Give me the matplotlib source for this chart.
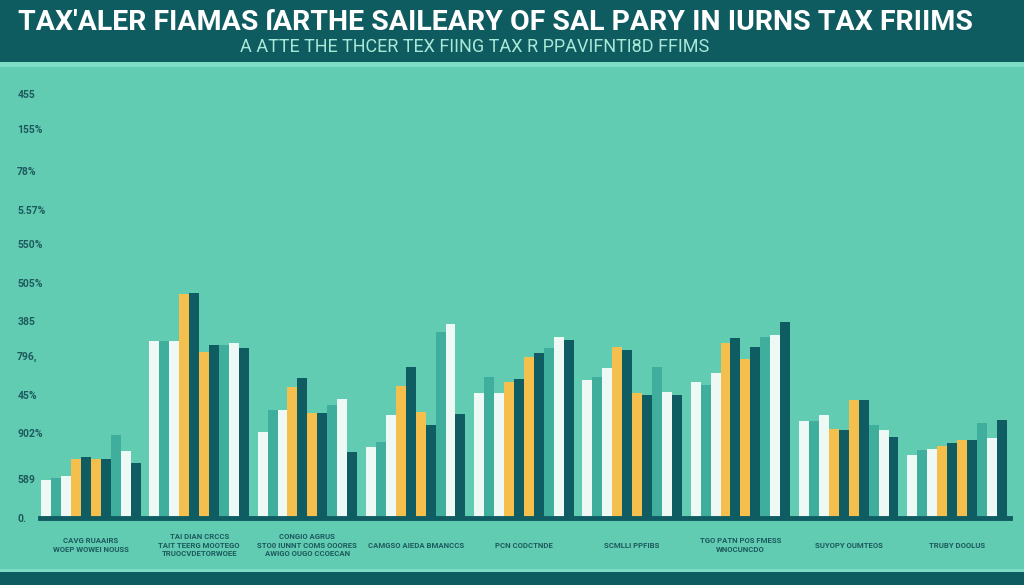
import matplotlib.pyplot as plt
import numpy as np
from matplotlib.patches import Rectangle

# category labels (as printed on the chart)
categories = [
    "CAVG RUAAIRS\nWOEP WOWEI NOUSS",
    "TAI DIAN CRCCS\nTAIT TEERG MOOTEGO\nTRUOCVDETORWOEE",
    "CONGIO AGRUS\nSTO0 IUNNT COMS OOORES\nAWIGO OUGO CCOECAN",
    "CAMGSO AIEDA BMANCCS",
    "PCN CODCTNDE",
    "SCMLLI PPFIBS",
    "TGO PATN POS FMESS\nWNOCUNCDO",
    "SUYOPY OUMTEOS",
    "TRUBY DOOLUS",
]

# ten series per group
s1_white = [9.9, 46.0, 22.3, 18.4, 32.5, 35.8, 35.3, 25.2, 16.4]
s2_teal = [10.4, 46.0, 28.1, 19.7, 36.6, 36.6, 34.5, 25.2, 17.7]
s3_white = [10.9, 46.0, 28.1, 26.8, 32.5, 39.0, 37.7, 26.8, 17.9]
s4_yellow = [15.3, 58.2, 34.0, 34.3, 35.3, 44.4, 45.5, 23.1, 18.7]
s5_dark = [15.8, 58.4, 36.4, 39.2, 36.1, 43.6, 46.8, 22.9, 19.5]
s6_yellow = [15.3, 43.1, 27.3, 27.5, 41.8, 32.5, 41.3, 30.6, 20.3]
s7_dark = [15.3, 44.9, 27.3, 24.2, 42.9, 31.9, 44.4, 30.6, 20.3]
s8_teal = [21.6, 44.9, 29.4, 48.3, 44.0, 39.2, 47.0, 24.2, 24.7]
s9_white = [17.4, 45.5, 30.9, 50.4, 47.0, 32.7, 47.5, 22.9, 20.8]
s10_dark = [14.3, 44.0, 17.1, 27.0, 46.2, 31.9, 50.9, 21.0, 25.5]

y_ticks = [0, 10, 22, 32, 42, 51, 61, 71, 80, 90, 101, 110]
y_labels = ["0.", "589", "902%", "45%", "796,", "385", "505%", "550%",
            "5.57%", "78%", "155%", "455"]

title = "TAX'ALER FIAMAS ſARTHE SAILEARY OF SAL PARY IN IURNS TAX FRIIMS"
subtitle = "A ATTE THE THCER TEX FIING TAX R PPAVIFNTI8D FFIMS"

MINT = "#62ccb2"
DARK = "#0f5c60"
WHITE = "#eef9f6"
TEAL = "#3fae9d"
YELLOW = "#f4bf4c"
BARDARK = "#0f5d62"
LABEL = "#1c5a5e"

series = [(s1_white, WHITE), (s2_teal, TEAL), (s3_white, WHITE),
          (s4_yellow, YELLOW), (s5_dark, BARDARK), (s6_yellow, YELLOW),
          (s7_dark, BARDARK), (s8_teal, TEAL), (s9_white, WHITE),
          (s10_dark, BARDARK)]

font = ["Roboto", "DejaVu Sans"]

fig = plt.figure(figsize=(10.24, 5.85), dpi=100)
fig.patch.set_facecolor(MINT)

# header and footer bands
fig.patches.append(Rectangle((0, 1 - 62 / 585), 1, 62 / 585, transform=fig.transFigure,
                             facecolor=DARK, edgecolor="none", zorder=0))
fig.patches.append(Rectangle((0, 1 - 67 / 585), 1, 5 / 585, transform=fig.transFigure,
                             facecolor="#7fdcc4", edgecolor="none", zorder=0))
fig.patches.append(Rectangle((0, 0), 1, 13 / 585, transform=fig.transFigure,
                             facecolor=DARK, edgecolor="none", zorder=0))
fig.patches.append(Rectangle((0, 13 / 585), 1, 3 / 585, transform=fig.transFigure,
                             facecolor="#7fdcc4", edgecolor="none", zorder=0))

fig.text(495 / 1024, 1 - 22 / 585, title, color="white", fontsize=20.5, fontweight="bold",
         family=font, ha="center", va="center")
fig.text(475 / 1024, 1 - 47 / 585, subtitle, color="#a9e8d8", fontsize=13,
         family=font, ha="center", va="center")

ax = fig.add_axes([40 / 1024, 67 / 585, 970 / 1024, 451 / 585])
ax.set_facecolor(MINT)

x = np.arange(len(categories))
n = len(series)
w = 0.092
for i, (vals, col) in enumerate(series):
    ax.bar(x + (i - (n - 1) / 2) * w, vals, w, color=col, edgecolor="none", zorder=2)

ax.set_xlim(-0.47, 8.49)
ax.set_ylim(0, 117)

for s in ["top", "right", "left"]:
    ax.spines[s].set_visible(False)
ax.spines["bottom"].set_color(BARDARK)
ax.spines["bottom"].set_linewidth(3.5)
ax.spines["bottom"].set_zorder(3)

ax.set_yticks(y_ticks)
ax.set_yticklabels(y_labels, family=font, fontsize=7.5, color=LABEL,
                   fontweight="bold")
ax.tick_params(axis="y", length=0, pad=2)
for lab in ax.get_yticklabels():
    lab.set_horizontalalignment("left")
    lab.set_x(-20 / 970)

ax.set_xticks([])
for xi, lab in zip(x, categories):
    ax.text(xi, -27 / 451, lab, transform=ax.get_xaxis_transform(), ha="center",
            va="center", fontsize=5.6, color=LABEL, fontweight="bold",
            family=font, linespacing=1.2)

fig.savefig("out.png", dpi=100, facecolor=MINT)
